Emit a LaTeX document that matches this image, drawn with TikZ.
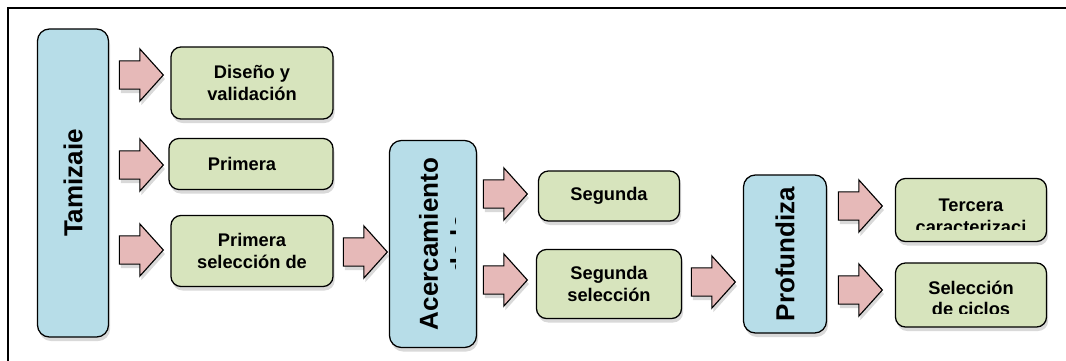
\documentclass[tikz,border=0pt]{standalone}
\usepackage{fontspec}
\setmainfont{Liberation Sans}
\usepackage{tikz}
\usetikzlibrary{calc, shapes.arrows, shadows}
\definecolor{cajaazul}{RGB}{183, 221, 232}
\definecolor{cajaverde}{RGB}{215, 228, 189}
\definecolor{flecharosa}{RGB}{230, 185, 184}
\tikzset{
  sombra/.style={drop shadow={opacity=0.3, shadow xshift=0.04cm, shadow yshift=-0.1cm}},
  etapa/.style={draw, line width=0.9pt, fill=cajaazul, rounded corners=0.3cm, sombra},
  tarea/.style={draw, line width=0.9pt, fill=cajaverde, rounded corners=0.25cm, sombra},
  texto/.style={align=center, inner sep=0pt, font=\fontsize{13}{15.6}\selectfont\bfseries},
  vertical/.style={rotate=90, align=center, inner sep=0pt, font=\fontsize{18.5}{22.2}\selectfont\bfseries},
  flecha/.style={single arrow, draw, line width=0.8pt, fill=flecharosa, inner xsep=0pt, inner ysep=0.3375cm,
    minimum height=1.1cm, minimum width=1.275cm, single arrow head extend=0.3cm,
    single arrow tip angle=96, sombra}
}

\begin{document}
\begin{tikzpicture}[x=0.025cm, y=-0.025cm]
\useasboundingbox (0,0) rectangle (1066,361);
\draw[line width=1.1pt] (8,361) -- (8,8) -- (1066,8);

% Tamizaje
\node[etapa, minimum width=1.775cm, minimum height=7.7cm] (tam) at (73,183) {};
\node[vertical] (tamtxt) at (tam.center) {Tamizaie};
\node[tarea, minimum width=4.05cm, minimum height=1.8cm] (dis) at (252,83) {};
\node[texto] (distxt) at (dis.center) {Diseño y\\validación};
\node[tarea, minimum width=4.1cm, minimum height=1.275cm] (pri) at (251,164) {};
\node[texto] (pritxt) at ($(pri.center)+(-9,0)$) {Primera};
\node[tarea, minimum width=4.05cm, minimum height=1.775cm] (psel) at (252,251) {};
\node[texto] (pseltxt) at (psel.center) {Primera\\selección de};
\node[flecha] (f1) at (135,75) {};
\node[flecha] (f2) at (135,165) {};
\node[flecha] (f3) at (135,250) {};
\node[flecha] (f4) at (359,252) {};

% Acercamiento
\node[etapa, minimum width=2.175cm, minimum height=5.175cm] (acer) at (433,244) {};
\begin{scope}
\clip (acer.north west) rectangle ($(acer.south)+(22,0)$);
\node[vertical, anchor=north] (acertxt) at ($(acer.west)+(30,0)$) {Acercamiento\\de la};
\end{scope}
\node[tarea, minimum width=3.525cm, minimum height=1.25cm] (seg) at (609,196) {};
\node[texto] (segtxt) at (seg.center) {Segunda};
\node[tarea, minimum width=3.625cm, minimum height=1.725cm] (ssel) at (609,284) {};
\node[texto] (sseltxt) at (ssel.center) {Segunda\\selección};
\node[flecha] (f5) at (499,194) {};
\node[flecha] (f6) at (499,280) {};
\node[flecha] (f7) at (707,282) {};

% Profundiza
\node[etapa, minimum width=2.075cm, minimum height=3.95cm] (prof) at (785,254) {};
\node[vertical] (proftxt) at (prof.center) {Profundiza};
\node[tarea, minimum width=3.775cm, minimum height=1.575cm] (ter) at (971,210) {};
\node[tarea, minimum width=3.775cm, minimum height=1.6cm] (cic) at (971,295) {};
\begin{scope}
\clip (ter.north west) rectangle ($(ter.east)+(0,19)$);
\node[texto, anchor=north] (tertxt) at ($(ter.north)+(0,21)$) {Tercera\\caracterizaci};
\end{scope}
\begin{scope}
\clip (cic.north west) rectangle ($(cic.east)+(0,18)$);
\node[texto, anchor=north] (cictxt) at ($(cic.north)+(0,18)$) {Selección\\de ciclos};
\end{scope}
\node[flecha] (f8) at (854,206) {};
\node[flecha] (f9) at (854,290) {};
\end{tikzpicture}
\end{document}
